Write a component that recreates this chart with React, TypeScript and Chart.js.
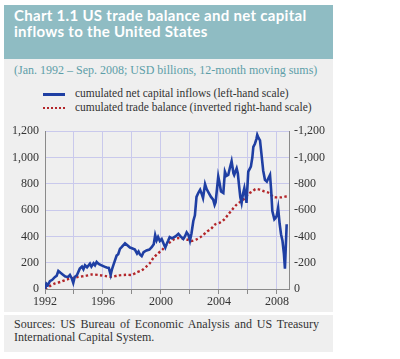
import React, { useEffect, useRef } from "react";
import { Chart, registerables } from "chart.js";

Chart.register(...registerables);

// Cumulated net capital inflows (USD bn, left-hand scale)
const inflowYears = [
  1992.0, 1992.1, 1992.2, 1992.34, 1992.5, 1992.69, 1992.8, 1992.92, 1993.05, 1993.26,
  1993.4, 1993.6, 1993.72, 1993.85, 1993.95, 1994.05, 1994.2, 1994.4, 1994.55, 1994.65,
  1994.76, 1994.9, 1995.1, 1995.2, 1995.35, 1995.45, 1995.56, 1995.7, 1995.9, 1996.1,
  1996.25, 1996.4, 1996.53, 1996.62, 1996.71, 1996.94, 1997.05, 1997.17, 1997.3, 1997.52,
  1997.7, 1997.86, 1998.0, 1998.2, 1998.35, 1998.45, 1998.55, 1998.67, 1998.8, 1999.0,
  1999.2, 1999.36, 1999.5, 1999.6, 1999.7, 1999.8, 1999.92, 2000.05, 2000.2, 2000.3,
  2000.4, 2000.5, 2000.6, 2000.75, 2000.85, 2001.0, 2001.2, 2001.35, 2001.54, 2001.65,
  2001.77, 2001.9, 2002.0, 2002.1, 2002.23, 2002.34, 2002.45, 2002.57, 2002.7, 2002.82,
  2002.9, 2003.04, 2003.15, 2003.3, 2003.45, 2003.6, 2003.7, 2003.77, 2003.95, 2004.05,
  2004.14, 2004.3, 2004.41, 2004.52, 2004.64, 2004.75, 2004.87, 2005.0, 2005.05, 2005.22,
  2005.3, 2005.38, 2005.47, 2005.56, 2005.65, 2005.75, 2005.85, 2005.9, 2006.02, 2006.2,
  2006.3, 2006.37, 2006.48, 2006.58, 2006.64, 2006.72, 2006.83, 2006.94, 2007.05, 2007.17,
  2007.3, 2007.4, 2007.52, 2007.6, 2007.68, 2007.82, 2007.9, 2007.98, 2008.08, 2008.18,
  2008.28, 2008.38, 2008.48, 2008.55, 2008.67,
];
const inflowValues = [
  0, 40, 30, 60, 70, 92, 100, 137, 125, 107,
  95, 92, 107, 80, 47, 92, 105, 155, 170, 150,
  180, 165, 192, 170, 195, 180, 205, 190, 180, 170,
  163, 160, 107, 150, 180, 255, 265, 305, 320, 347,
  330, 315, 310, 300, 270, 285, 262, 250, 280, 293,
  300, 318, 340, 410, 370, 395, 365, 380, 340, 315,
  345, 368, 395, 385, 390, 400, 420, 400, 380, 400,
  430, 410, 368, 420, 517, 560, 700, 730, 755, 720,
  692, 797, 760, 730, 700, 680, 640, 660, 855, 800,
  742, 730, 892, 860, 867, 920, 972, 880, 867, 917,
  880, 792, 700, 655, 720, 767, 700, 655, 892, 930,
  1000, 1080, 1105, 1140, 1172, 1150, 1130, 1017, 900, 830,
  817, 840, 867, 750, 592, 530, 540, 555, 617, 500,
  417, 367, 267, 155, 492,
];

// Cumulated trade balance (USD bn, inverted right-hand scale)
const tradeYears = [
  1992.0, 1992.3, 1992.7, 1993.1, 1993.5, 1994.0, 1994.3, 1994.8, 1995.2, 1995.8,
  1996.2, 1996.6, 1997.0, 1997.6, 1998.0, 1998.3, 1998.67, 1998.95, 1999.24, 1999.47,
  1999.75, 2000.1, 2000.32, 2000.62, 2000.92, 2001.24, 2001.54, 2001.88, 2002.1, 2002.46,
  2002.8, 2003.15, 2003.45, 2003.72, 2004.07, 2004.37, 2004.64, 2004.92, 2005.22, 2005.52,
  2005.75, 2006.02, 2006.3, 2006.55, 2006.83, 2007.12, 2007.45, 2007.75, 2008.05, 2008.33,
  2008.67,
];
const tradeValues = [
  0, -20, -42, -55, -72, -85, -92, -100, -110, -105,
  -98, -92, -102, -108, -108, -125, -142, -167, -197, -235,
  -267, -300, -330, -355, -378, -388, -382, -373, -365, -378,
  -400, -435, -458, -490, -505, -530, -567, -605, -642, -667,
  -687, -722, -742, -760, -755, -742, -730, -700, -697, -697,
  -705,
];

const xLabelYears = [1992, 1996, 2000, 2004, 2008];

const serif = "'Liberation Serif', 'Times New Roman', serif";

function ChartCanvas() {
  const ref = useRef<HTMLCanvasElement | null>(null);
  useEffect(() => {
    if (!ref.current) return;
    const chart = new Chart(ref.current, {
      type: "line",
      data: {
        datasets: [
          {
            label: "cumulated net capital inflows (left-hand scale)",
            data: inflowYears.map((x, i) => ({ x, y: inflowValues[i] })),
            borderColor: "#1f3fa3",
            borderWidth: 2.6,
            pointRadius: 0,
            tension: 0,
            yAxisID: "y",
          },
          {
            label: "cumulated trade balance (inverted right-hand scale)",
            data: tradeYears.map((x, i) => ({ x, y: tradeValues[i] })),
            borderColor: "#b3262a",
            borderWidth: 2.4,
            borderDash: [2.4, 2.4],
            borderCapStyle: "butt",
            pointRadius: 0,
            tension: 0.3,
            yAxisID: "y1",
          },
        ],
      },
      options: {
        animation: false,
        responsive: false,
        maintainAspectRatio: false,
        layout: { padding: { top: 11, left: 0, right: 0, bottom: 0 } },
        plugins: { legend: { display: false }, tooltip: { enabled: false } },
        scales: {
          x: {
            type: "linear",
            min: 1992,
            max: 2008.83,
            afterFit: (s: any) => { s.height = 19; },
            ticks: {
              stepSize: 2,
              includeBounds: false,
              autoSkip: false,
              maxRotation: 0,
              padding: 1,
              color: "#333",
              font: { family: serif, size: 12 },
              callback: (v: any) => {
                const n = Math.round(Number(v));
                return xLabelYears.includes(n) ? String(n) : "";
              },
            },
            grid: {
              color: "#c9c9ec",
              lineWidth: 1,
              drawTicks: true,
              tickLength: 5,
              tickColor: "#8a8a8a",
            },
            border: { color: "#8a8a8a", width: 1 },
          },
          y: {
            position: "left",
            min: 0,
            max: 1200,
            afterFit: (s: any) => { s.width = 41; },
            ticks: {
              stepSize: 200,
              padding: 6,
              color: "#333",
              font: { family: serif, size: 12 },
            },
            grid: { color: "#c9c9ec", lineWidth: 1, drawTicks: false },
            border: { color: "#8a8a8a", width: 1 },
          },
          y1: {
            position: "right",
            min: -1200,
            max: 0,
            reverse: true,
            afterFit: (s: any) => { s.width = 44; },
            ticks: {
              stepSize: 200,
              padding: 5,
              color: "#333",
              font: { family: serif, size: 12 },
            },
            grid: { drawOnChartArea: false, drawTicks: false },
            border: { color: "#8a8a8a", width: 1 },
          },
        },
      },
    });
    return () => chart.destroy();
  }, []);
  return (
    <canvas
      ref={ref}
      width={329}
      height={190}
      style={{ position: "absolute", left: 4, top: 118, width: 329, height: 190 }}
    />
  );
}

export default function App() {
  return (
    <div
      style={{
        position: "absolute",
        left: 0,
        top: 0,
        width: 400,
        height: 359,
        background: "#ffffff",
        overflow: "hidden",
      }}
    >
      <div
        style={{
          position: "absolute",
          left: 4,
          top: 5,
          width: 329,
          height: 54,
          background: "#8fbcc3",
        }}
      />
      <div
        style={{
          position: "absolute",
          left: 14,
          top: 7,
          width: 318,
          color: "#ffffff",
          fontFamily: "Lato, 'Open Sans', sans-serif",
          fontWeight: 700,
          fontSize: 15,
          lineHeight: "16px",
          letterSpacing: 0.3,
          whiteSpace: "nowrap",
        }}
      >
        <div>Chart 1.1 US trade balance and net capital</div>
        <div>inflows to the United States</div>
      </div>
      <div
        style={{
          position: "absolute",
          left: 4,
          top: 59,
          width: 329,
          height: 253,
          background: "#efefef",
        }}
      />
      <div
        style={{
          position: "absolute",
          left: 14,
          top: 62,
          fontFamily: serif,
          fontSize: 12,
          lineHeight: "16px",
          color: "#5d9ea8",
          whiteSpace: "nowrap",
        }}
      >
        (Jan. 1992 – Sep. 2008; USD billions, 12-month moving sums)
      </div>
      <div style={{ position: "absolute", left: 43, top: 93, width: 22, height: 2.5, background: "#1f3fa3" }} />
      <div
        style={{
          position: "absolute",
          left: 43,
          top: 107,
          width: 22,
          height: 0,
          borderTop: "2.4px dotted #b3262a",
        }}
      />
      <div
        style={{
          position: "absolute",
          left: 75,
          top: 86,
          fontFamily: serif,
          fontSize: 11.5,
          lineHeight: "14px",
          color: "#333",
          whiteSpace: "nowrap",
        }}
      >
        <div>cumulated net capital inflows (left-hand scale)</div>
        <div>cumulated trade balance (inverted right-hand scale)</div>
      </div>
      <ChartCanvas />
      <div
        style={{
          position: "absolute",
          left: 4,
          top: 315,
          width: 329,
          height: 37,
          background: "#efefef",
        }}
      />
      <div
        style={{
          position: "absolute",
          left: 14,
          top: 318,
          width: 305,
          fontFamily: serif,
          fontSize: 12,
          lineHeight: "13px",
          color: "#333",
          textAlign: "justify",
        }}
      >
        Sources: US Bureau of Economic Analysis and US Treasury International Capital System.
      </div>
    </div>
  );
}
